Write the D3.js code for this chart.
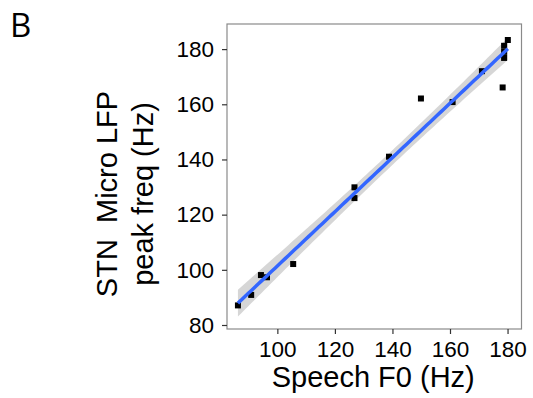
<!DOCTYPE html>
<html>
<head>
<meta charset="utf-8">
<script src="https://cdn.jsdelivr.net/npm/d3@7"></script>
<style>
  html, body { margin: 0; padding: 0; background: #fff; }
  svg { display: block; }
  text { font-family: "Liberation Sans", Arial, Helvetica, sans-serif; fill: #000; }
</style>
</head>
<body>
<svg id="chart" width="533" height="398"></svg>
<script>
// ---- data ----
const speechF0 = [86.3, 90.9, 94.3, 96.4, 105.5, 126.8, 126.8, 138.8, 149.9, 160.9, 171.1, 178.3, 178.8, 178.8, 178.8, 180.1];
const lfpPeak  = [87.1, 90.9, 98.1, 97.3, 102.1, 129.9, 126.0, 141.0, 162.1, 160.8, 172.0, 166.1, 181.2, 179.0, 176.8, 183.3];
const xTicks = [100, 120, 140, 160, 180];
const yTicks = [80, 100, 120, 140, 160, 180];
const xTitle = "Speech F0 (Hz)";
const yTitle = ["STN  Micro LFP", "peak freq (Hz)"];
const panelLabel = "B";

const svg = d3.select("#chart");
const panel = { left: 227, right: 521.5, top: 24, bottom: 329 };

const x = d3.scaleLinear().domain([82.5, 184.85]).range([panel.left, panel.right]);
const y = d3.scaleLinear().domain([78.55, 189.1]).range([panel.bottom, panel.top]);

// ---- linear regression with 95% confidence band ----
const pts = speechF0.map((v, i) => ({ x: v, y: lfpPeak[i] }));
const n = pts.length;
const mx = d3.mean(pts, d => d.x), my = d3.mean(pts, d => d.y);
const sxx = d3.sum(pts, d => (d.x - mx) ** 2);
const sxy = d3.sum(pts, d => (d.x - mx) * (d.y - my));
const b1 = sxy / sxx, b0 = my - b1 * mx;
const sse = d3.sum(pts, d => (d.y - (b0 + b1 * d.x)) ** 2);
const s = Math.sqrt(sse / (n - 2));
const tq = 2.145; // t(0.975, df = 14)
const [xmin, xmax] = d3.extent(speechF0);
const fit = d3.range(0, 81).map(i => {
  const xv = xmin + (xmax - xmin) * i / 80;
  const yv = b0 + b1 * xv;
  const se = s * Math.sqrt(1 / n + (xv - mx) ** 2 / sxx);
  return { x: xv, y: yv, lo: yv - tq * se, hi: yv + tq * se };
});

const g = svg.append("g");

g.append("path")
  .datum(fit)
  .attr("fill", "#999999")
  .attr("fill-opacity", 0.4)
  .attr("d", d3.area().x(d => x(d.x)).y0(d => y(d.lo)).y1(d => y(d.hi)));

// points
const sz = 6;
g.selectAll("rect.pt").data(pts).enter().append("rect")
  .attr("class", "pt")
  .attr("x", d => x(d.x) - sz / 2)
  .attr("y", d => y(d.y) - sz / 2)
  .attr("width", sz).attr("height", sz)
  .attr("fill", "#000");

g.append("path")
  .datum(fit)
  .attr("fill", "none")
  .attr("stroke", "#3366FF")
  .attr("stroke-width", 3.5)
  .attr("d", d3.line().x(d => x(d.x)).y(d => y(d.y)));

// panel border
svg.append("rect")
  .attr("x", panel.left).attr("y", panel.top)
  .attr("width", panel.right - panel.left).attr("height", panel.bottom - panel.top)
  .attr("fill", "none").attr("stroke", "#8a8a8a").attr("stroke-width", 1.2);

// axes
const xAxis = d3.axisBottom(x).tickValues(xTicks).tickSize(5).tickPadding(7);
const yAxis = d3.axisLeft(y).tickValues(yTicks).tickSize(5).tickPadding(8);

const gx = svg.append("g").attr("transform", `translate(0,${panel.bottom})`).call(xAxis);
const gy = svg.append("g").attr("transform", `translate(${panel.left},0)`).call(yAxis);
[gx, gy].forEach(a => {
  a.select(".domain").remove();
  a.selectAll(".tick line").attr("stroke", "#333").attr("stroke-width", 1.2);
  a.selectAll(".tick text").attr("font-size", 22.5).attr("fill", "#000")
    .style("font-family", '"Liberation Sans", Arial, sans-serif');
});

// titles
svg.append("text")
  .attr("x", (panel.left + panel.right) / 2 - 1)
  .attr("y", 387)
  .attr("text-anchor", "middle")
  .attr("font-size", 29)
  .text(xTitle);

const yc = 194;
svg.append("text")
  .attr("transform", `translate(116.5,${yc}) rotate(-90)`)
  .attr("text-anchor", "middle")
  .attr("font-size", 29)
  .style("white-space", "pre")
  .attr("xml:space", "preserve")
  .text(yTitle[0]);
svg.append("text")
  .attr("transform", `translate(152.5,${yc}) rotate(-90)`)
  .attr("text-anchor", "middle")
  .attr("font-size", 29)
  .text(yTitle[1]);

svg.append("text")
  .attr("x", 10).attr("y", 37)
  .attr("font-size", 33)
  .style("font-family", '"Open Sans", "DejaVu Sans", sans-serif')
  .text(panelLabel);
</script>
</body>
</html>
